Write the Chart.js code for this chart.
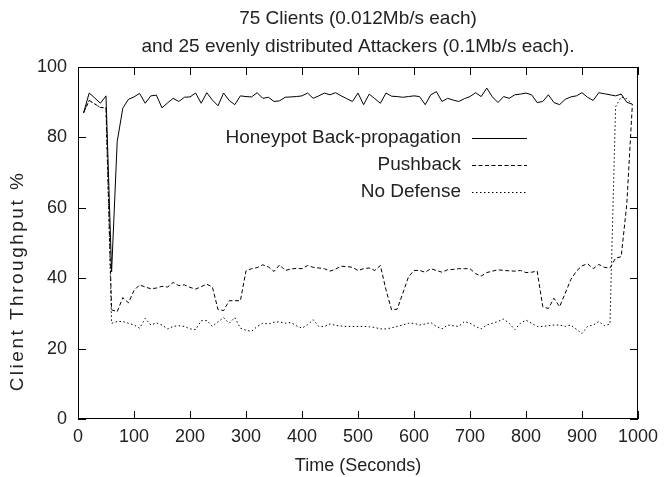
<!DOCTYPE html>
<html><head><meta charset="utf-8">
<script src="https://cdn.jsdelivr.net/npm/chart.js@4.4.0/dist/chart.umd.min.js"></script>
<style>html,body{margin:0;padding:0;background:#fff}#wrap{width:665px;height:477px}</style>
</head><body><div id="wrap"><canvas id="c" width="665" height="477"></canvas></div>
<script>
const titleLines = ["75 Clients (0.012Mb/s each)", "and 25 evenly distributed Attackers (0.1Mb/s each)."];
const xAxisTitle = "Time (Seconds)";
const yAxisTitle = "Client Throughput %";
const seriesNames = ["Honeypot Back-propagation", "Pushback", "No Defense"];

const times = [10,20,30,40,50,60,70,80,90,100,
  110,120,130,140,150,160,170,180,190,200,
  210,220,230,240,250,260,270,280,290,300,
  310,320,330,340,350,360,370,380,390,400,
  410,420,430,440,450,460,470,480,490,500,
  510,520,530,540,550,560,570,580,590,600,
  610,620,630,640,650,660,670,680,690,700,
  710,720,730,740,750,760,770,780,790,800,
  810,820,830,840,850,860,870,880,890,900,
  910,920,930,940,950,960,970,980,990];

const honeypot = [87.0,92.6,91.2,89.7,91.8,41.8,78.8,88.3,90.8,91.5,
  92.5,89.7,91.8,92.0,88.4,89.8,91.1,90.2,91.4,91.5,
  92.6,89.7,92.7,90.6,89.0,92.6,90.5,89.3,91.8,91.6,
  91.5,92.7,91.1,91.4,90.2,90.4,91.4,91.5,91.6,91.8,
  92.6,91.1,91.8,92.6,92.1,92.7,91.8,91.0,90.2,92.6,
  89.3,92.3,91.0,89.7,92.6,91.7,91.6,91.4,91.6,91.8,
  91.6,89.3,92.1,93.0,90.2,91.1,90.6,90.2,91.0,91.6,
  92.7,91.6,94.0,91.5,89.9,91.6,91.1,92.1,92.3,92.6,
  92.1,89.9,90.2,92.1,89.9,89.3,90.8,91.5,91.8,92.7,
  91.4,90.5,92.7,92.4,92.1,91.8,92.3,90.0,89.4];

const pushback = [87.0,90.5,89.5,88.5,88.4,31.0,30.5,34.5,33.0,36.5,
  38.1,37.5,37.0,37.2,37.7,37.5,38.8,37.9,38.1,37.4,
  36.9,37.6,38.3,37.5,31.1,30.8,33.6,33.6,33.6,42.1,
  42.7,43.0,43.8,43.2,41.9,43.8,42.2,42.6,42.8,42.7,
  43.6,43.1,42.9,42.7,42.0,42.6,43.4,43.3,43.1,42.2,
  42.7,42.9,42.2,43.6,36.7,31.0,31.2,35.7,40.3,42.2,
  42.2,41.7,42.7,42.2,41.7,42.4,42.5,42.7,42.7,42.7,
  41.3,40.6,41.6,42.0,42.4,42.2,42.1,42.0,42.2,41.6,
  41.7,42.0,31.9,31.4,34.3,31.9,35.7,39.6,42.0,43.5,
  44.1,42.7,43.9,43.1,42.9,45.7,46.1,61.0,89.4];

const noDefense = [87.0,90.5,89.5,88.5,88.4,27.2,27.7,27.7,27.2,26.7,
  25.8,28.6,26.7,27.3,26.7,25.6,26.3,26.5,26.3,25.6,
  25.4,27.9,28.0,26.3,27.6,28.8,27.2,28.8,25.8,25.2,
  24.9,26.3,27.2,27.0,27.5,27.6,27.2,27.4,26.5,25.8,
  26.8,28.2,26.3,26.3,27.0,26.6,26.4,26.3,26.3,26.3,
  26.3,26.2,26.0,25.6,25.6,25.9,26.3,26.7,27.2,27.2,
  26.7,27.0,27.4,26.3,25.6,26.7,26.5,26.3,27.7,27.2,
  26.3,25.6,26.7,27.2,27.7,28.4,27.2,25.4,27.2,28.1,
  27.2,26.3,26.3,26.5,26.7,26.7,26.3,26.7,25.5,24.3,
  26.3,26.7,27.7,26.5,27.0,88.7,91.5,91.0,89.4];

const xTickStep = 100, yTickStep = 20;
const dashes = [[], [4, 2.5], [1.5, 2.5]];
const FONT = "'Liberation Sans', Arial, Helvetica, sans-serif";
const TEXT = '#222';

function toPoints(vals) { return times.map((t, i) => ({ x: t, y: vals[i] })); }

const decor = {
  id: 'decor',
  beforeDatasetsDraw(chart) {
    const { ctx, chartArea: a, scales } = chart;
    ctx.save();
    ctx.strokeStyle = '#000';
    ctx.lineWidth = 1;
    ctx.strokeRect(a.left + 0.5, a.top + 0.5, a.right - a.left - 1, a.bottom - a.top - 1);
    const L = 8;
    ctx.beginPath();
    scales.x.ticks.forEach(t => {
      const px = Math.round(scales.x.getPixelForValue(t.value)) + 0.5;
      ctx.moveTo(px, a.bottom); ctx.lineTo(px, a.bottom - L);
      ctx.moveTo(px, a.top); ctx.lineTo(px, a.top + L);
    });
    scales.y.ticks.forEach(t => {
      const py = Math.round(scales.y.getPixelForValue(t.value)) + 0.5;
      ctx.moveTo(a.left, py); ctx.lineTo(a.left + L, py);
      ctx.moveTo(a.right, py); ctx.lineTo(a.right - L, py);
    });
    ctx.stroke();
    ctx.restore();
  },
  afterDraw(chart) {
    const { ctx, chartArea: a } = chart;
    ctx.save();
    ctx.fillStyle = TEXT;
    ctx.font = '19px ' + FONT;
    ctx.textAlign = 'center';
    ctx.textBaseline = 'middle';
    const cx = (a.left + a.right) / 2;
    ctx.fillText(titleLines[0], cx, 19);
    ctx.fillText(titleLines[1], cx, 47);
    ctx.font = '18px ' + FONT;
    ctx.fillText(xAxisTitle, cx, 466);
    ctx.save();
    ctx.translate(18, 281);
    ctx.rotate(-Math.PI / 2);
    ctx.font = '19px ' + FONT;
    try { ctx.letterSpacing = '2.5px'; } catch (e) {}
    ctx.fillText(yAxisTitle, 0, 0);
    try { ctx.letterSpacing = '0px'; } catch (e) {}
    ctx.restore();
    // legend
    ctx.font = '19px ' + FONT;
    const rows = [138, 165, 192];
    seriesNames.forEach((name, i) => {
      ctx.textAlign = 'right';
      ctx.fillStyle = TEXT;
      ctx.fillText(name, 461, rows[i]);
      ctx.beginPath();
      ctx.setLineDash(dashes[i]);
      ctx.strokeStyle = '#000';
      ctx.lineWidth = 1;
      ctx.moveTo(472, rows[i] + 0.5);
      ctx.lineTo(527, rows[i] + 0.5);
      ctx.stroke();
      ctx.setLineDash([]);
    });
    ctx.restore();
  }
};

Chart.defaults.font.family = FONT;
Chart.defaults.font.size = 18;
Chart.defaults.color = TEXT;

new Chart(document.getElementById('c'), {
  type: 'line',
  data: {
    datasets: [
      { label: seriesNames[0], data: toPoints(honeypot), borderColor: '#000', borderWidth: 1, borderDash: dashes[0], pointRadius: 0, tension: 0, fill: false },
      { label: seriesNames[1], data: toPoints(pushback), borderColor: '#000', borderWidth: 1, borderDash: dashes[1], pointRadius: 0, tension: 0, fill: false },
      { label: seriesNames[2], data: toPoints(noDefense), borderColor: '#000', borderWidth: 1, borderDash: dashes[2], pointRadius: 0, tension: 0, fill: false }
    ]
  },
  options: {
    responsive: false,
    animation: false,
    devicePixelRatio: 1,
    layout: { padding: { top: 67, right: 24, left: 0, bottom: 0 } },
    plugins: { legend: { display: false }, title: { display: false }, tooltip: { enabled: false } },
    scales: {
      x: {
        type: 'linear', min: 0, max: 1000,
        ticks: { stepSize: xTickStep, padding: 7, maxRotation: 0, autoSkip: false, color: TEXT, callback: v => String(v) },
        grid: { display: false, drawTicks: false },
        border: { display: false },
        afterFit: s => { s.height = 58; }
      },
      y: {
        min: 0, max: 100,
        ticks: { stepSize: yTickStep, padding: 11, color: TEXT, callback: v => String(v) },
        grid: { display: false, drawTicks: false },
        border: { display: false },
        afterFit: s => { s.width = 78; }
      }
    }
  },
  plugins: [decor]
});
</script>
</body></html>
